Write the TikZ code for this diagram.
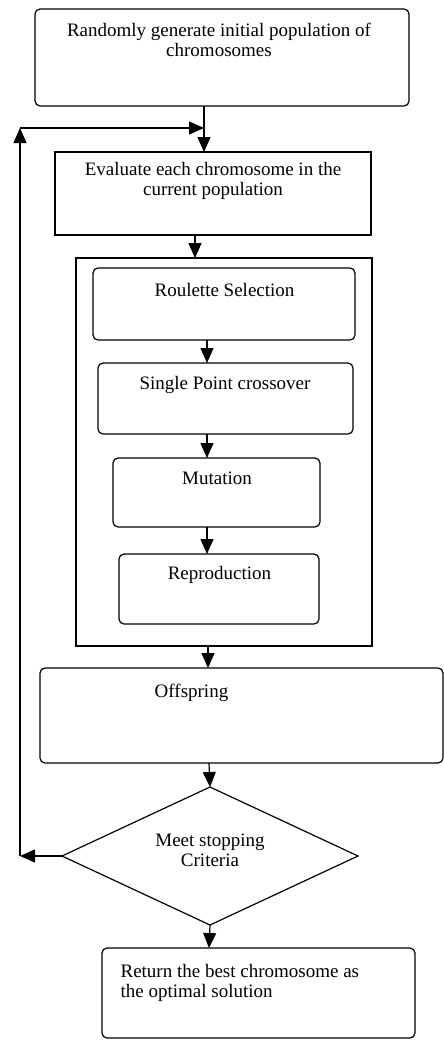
\documentclass[tikz,border=0pt]{standalone}
\usepackage{fontspec}
\setmainfont{Liberation Serif}
\usetikzlibrary{shapes.geometric,arrows.meta}
\begin{document}
\begin{tikzpicture}[x=1pt,y=-1pt,
  line width=1.2pt,
  box/.style={draw,rectangle,inner sep=0pt,outer sep=0pt,anchor=north west},
  rbox/.style={box,rounded corners=5pt},
  txt/.style={inner sep=0pt,align=center,font=\fontsize{19}{20}\selectfont},
  arr/.style={-{Triangle[width=13pt,length=15pt]}}]
\useasboundingbox (0,0) rectangle (444,1042);
% boxes
\node[rbox,minimum width=374pt,minimum height=97pt] (b1) at (35,9) {};
\node[box,minimum width=316pt,minimum height=83pt] (b2) at (55,152) {};
\node[box,minimum width=296pt,minimum height=388pt] (outer) at (76,258) {};
\node[rbox,minimum width=262pt,minimum height=72pt] (r1) at (93,268) {};
\node[rbox,minimum width=255pt,minimum height=71pt] (r2) at (98,363) {};
\node[rbox,minimum width=207pt,minimum height=69pt] (r3) at (113,458) {};
\node[rbox,minimum width=200pt,minimum height=70pt] (r4) at (119,554) {};
\node[rbox,minimum width=403pt,minimum height=95pt] (off) at (40,668) {};
\node[draw,diamond,inner sep=0pt,outer sep=0pt,minimum width=296pt,minimum height=138pt] (dia) at (210,856) {};
\node[rbox,minimum width=313pt,minimum height=90pt] (ret) at (102,948) {};
% texts
\node[txt] (t1) at (219,39.5) {Randomly generate initial population of\\chromosomes};
\node[txt] (t2) at (213,181) {Evaluate each chromosome in the\\current population};
\node[txt] (t3) at (224.5,290) {Roulette Selection};
\node[txt] (t4) at (225,385) {Single Point crossover};
\node[txt] (t5) at (217,478) {Mutation};
\node[txt] (t6) at (219.5,575) {Reproduction};
\node[txt] (t7) at (191.5,693) {Offspring};
\node[txt] (t8) at (210,850) {Meet stopping\\Criteria};
\node[txt,align=left,anchor=west] (t9) at (120,983) {Return the best chromosome as\\the optimal solution};
% connector columns
\coordinate (cA) at (204,0);
\coordinate (cB) at (195,0);
\coordinate (cC) at (207,0);
\coordinate (cD) at (208,0);
\coordinate (cE) at (209,0);
\coordinate (join) at (204,128);
\coordinate (fbT) at (20,128);
\coordinate (fbL) at (20,856);
% connectors
\draw[arr] (b1.south -| cA) -- (b2.north -| cA);
\draw[arr] (b2.south -| cB) -- (outer.north -| cB);
\draw[arr] (r1.south -| cC) -- (r2.north -| cC);
\draw[arr] (r2.south -| cC) -- (r3.north -| cC);
\draw[arr] (r3.south -| cC) -- (r4.north -| cC);
\draw[arr] (outer.south -| cD) -- (off.north -| cD);
\draw[arr] (off.south -| cE) -- (dia.north);
\draw[arr] (dia.south) -- (ret.north -| cE);
\draw[arr] (dia.west) -- (fbL);
\draw[arr] (fbL) -- (fbT);
\draw[arr] (fbT) -- (join);
\end{tikzpicture}
\end{document}
